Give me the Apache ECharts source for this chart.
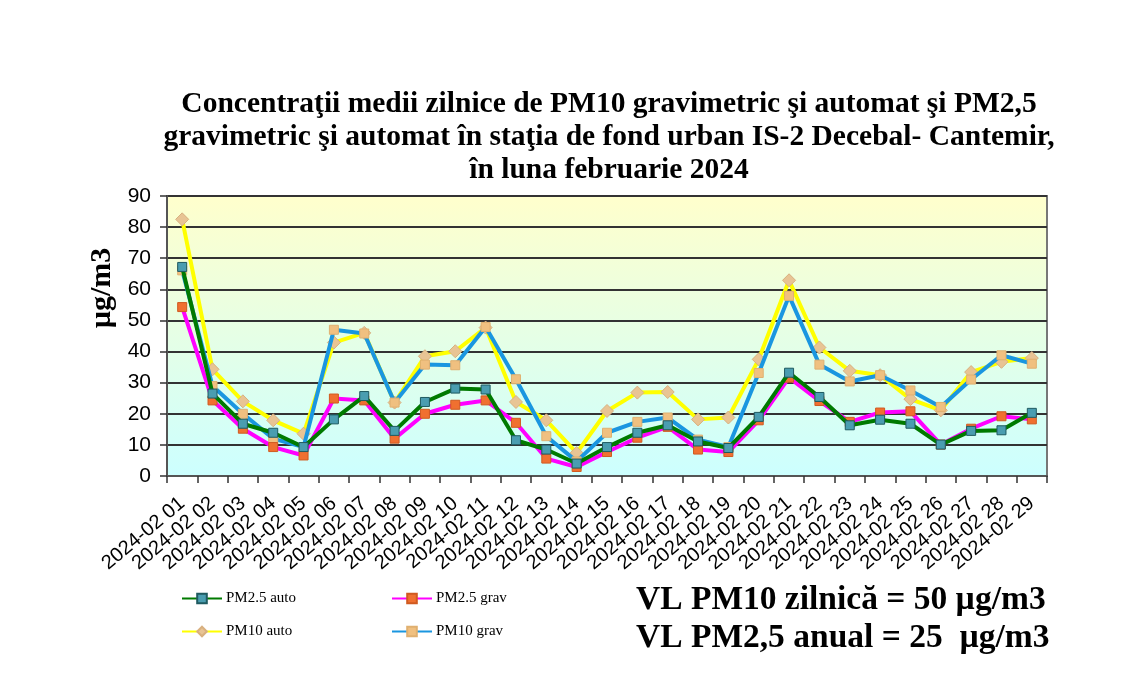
<!DOCTYPE html>
<html><head><meta charset="utf-8">
<script src="https://cdn.jsdelivr.net/npm/echarts@6/dist/echarts.min.js"></script>
<style>html,body{margin:0;padding:0;background:#fff}#c{width:1130px;height:700px}</style>
</head><body><div id="c"></div>
<script>
const days = ['2024-02 01','2024-02 02','2024-02 03','2024-02 04','2024-02 05','2024-02 06','2024-02 07','2024-02 08','2024-02 09','2024-02 10','2024-02 11','2024-02 12','2024-02 13','2024-02 14','2024-02 15','2024-02 16','2024-02 17','2024-02 18','2024-02 19','2024-02 20','2024-02 21','2024-02 22','2024-02 23','2024-02 24','2024-02 25','2024-02 26','2024-02 27','2024-02 28','2024-02 29'];
const pm25Auto = [67.2,26.5,16.8,13.9,9.3,18.2,25.7,14.5,23.8,28.1,27.8,11.5,8.5,4.0,9.3,13.9,16.3,11.1,9.0,19.0,33.2,25.4,16.3,18.1,16.8,10.1,14.5,14.7,20.3];
const pm25Grav = [54.3,24.3,15.2,9.3,6.6,24.9,24.3,12.0,20.0,22.9,24.3,17.1,5.6,2.9,7.7,12.3,15.8,8.5,7.7,17.9,31.6,24.1,17.4,20.4,20.8,10.1,15.2,19.2,18.2];
const pm10Auto = [82.5,34.3,24.0,17.9,13.6,42.9,46.0,23.6,38.5,40.1,47.7,23.8,17.9,7.4,20.9,26.8,27.0,18.2,18.8,37.5,62.9,41.3,33.8,32.4,24.7,21.1,33.4,36.7,37.9];
const pm10Grav = [66.1,28.9,20.0,12.0,9.3,47.0,45.8,23.6,35.8,35.6,47.9,31.1,12.8,4.7,13.9,17.4,18.8,11.7,9.3,33.1,57.9,35.8,30.4,32.4,27.5,22.2,31.0,38.8,36.1];
const yTicks = {min:0, max:90, interval:10};

const chart = echarts.init(document.getElementById('c'));
const serif = '"Liberation Serif","Times New Roman",serif';
const sans = '"Liberation Sans",Arial,sans-serif';
function ser(name, data, color, symbol, mColor, mBorder, z){
  return {name, type:'line', data, z, symbol, symbolSize: symbol==='diamond'?13:9,
    lineStyle:{color, width:4}, itemStyle:{color:mColor, borderColor:mBorder, borderWidth:1},
    emphasis:{disabled:true}, animation:false};
}
function leg(name, left, top){
  return {data:[name], left, top, itemWidth:40, itemHeight:12, itemGap:4,
    textStyle:{fontFamily:serif, fontSize:15, color:'#000', padding:[0,0,0,-1]}};
}
chart.setOption({
  backgroundColor:'#fff',
  animation:false,
  title:{text:'Concentraţii medii zilnice de PM10 gravimetric şi automat şi PM2,5\ngravimetric şi automat în staţia de fond urban IS-2 Decebal- Cantemir,\nîn luna februarie 2024',
    left:604, top:83, textAlign:'center',
    textStyle:{fontFamily:serif, fontWeight:'bold', fontSize:29.5, lineHeight:33, color:'#000'}},
  grid:{left:167, right:83, top:196, bottom:224, show:true,
    backgroundColor:{type:'linear',x:0,y:0,x2:0,y2:1,colorStops:[{offset:0,color:'#FFFFCC'},{offset:1,color:'#CCFFFF'}]},
    borderColor:'#777', borderWidth:2},
  xAxis:{type:'category', data:days, boundaryGap:true,
    axisLine:{lineStyle:{color:'#555', width:2}},
    axisTick:{show:true, length:7, lineStyle:{color:'#333', width:1.5}},
    axisLabel:{rotate:40, fontFamily:sans, fontSize:20, color:'#000', interval:0, margin:25}},
  yAxis:{type:'value', min:yTicks.min, max:yTicks.max, interval:yTicks.interval,
    axisLine:{show:true, lineStyle:{color:'#555', width:2}},
    axisTick:{show:true, length:7, lineStyle:{color:'#333', width:1.5}},
    splitLine:{lineStyle:{color:'#333', width:2}},
    axisLabel:{fontFamily:sans, fontSize:21, color:'#000', margin:16}},
  legend:[leg('PM2.5 auto',176,586), leg('PM2.5 grav',386,586), leg('PM10 auto',176,619), leg('PM10 grav',386,619)],
  graphic:[
    {type:'text', x:102, y:288, rotation:Math.PI/2, style:{text:'µg/m3', fontFamily:serif, fontWeight:'bold', fontSize:30, fill:'#000', align:'center', verticalAlign:'middle'}},
    {type:'text', x:636, y:600, style:{text:'VL PM10 zilnică = 50 µg/m3', fontFamily:serif, fontWeight:'bold', fontSize:33.5, fill:'#000', align:'left', verticalAlign:'middle'}},
    {type:'text', x:636, y:638, style:{text:'VL PM2,5 anual = 25  µg/m3', fontFamily:serif, fontWeight:'bold', fontSize:33.5, fill:'#000', align:'left', verticalAlign:'middle'}}
  ],
  series:[
    ser('PM2.5 auto', pm25Auto, '#007A00', 'rect', '#4A9DB0', '#1F5A60', 4),
    ser('PM2.5 grav', pm25Grav, '#FF00FF', 'rect', '#F07030', '#D05A20', 3),
    ser('PM10 auto', pm10Auto, '#FFFF00', 'diamond', '#E8C494', '#D8B080', 1),
    ser('PM10 grav', pm10Grav, '#1A96E0', 'rect', '#F0C080', '#E0B070', 2)
  ]
});
</script></body></html>
